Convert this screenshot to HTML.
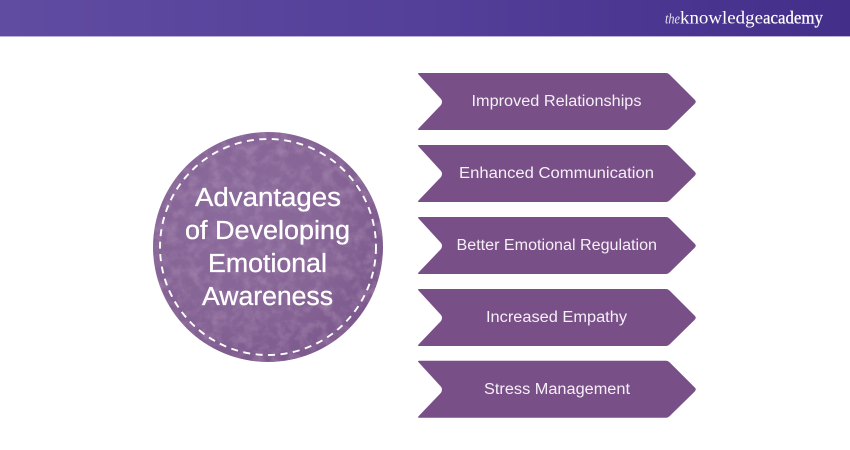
<!DOCTYPE html>
<html><head><meta charset="utf-8"><style>
html,body{margin:0;padding:0;background:#fff;width:850px;height:450px;overflow:hidden}
svg{display:block}
.l{font-family:"Liberation Sans",sans-serif;font-size:15.5px;fill:#f5eff7}
.c{font-family:"Liberation Sans",sans-serif;font-size:25.5px;fill:#fff;stroke:#fff;stroke-width:.3px}
.g{font-family:"Liberation Serif",serif;fill:#fff}
</style></head><body>
<svg width="850" height="450" viewBox="0 0 850 450" xmlns="http://www.w3.org/2000/svg">
<defs>
<linearGradient id="h" x1="0" x2="1" y1="0" y2="0"><stop offset="0" stop-color="#604ca1"/><stop offset=".5" stop-color="#543f99"/><stop offset="1" stop-color="#432f8a"/></linearGradient>
<filter id="t" x="0" y="0" width="100%" height="100%"><feTurbulence type="fractalNoise" baseFrequency=".09" numOctaves="4" seed="7"/><feColorMatrix values="0 0 0 0 .42  0 0 0 0 .27  0 0 0 0 .46  1.2 0 0 0 -.5"/></filter>
<radialGradient id="s" gradientUnits="userSpaceOnUse" cx="240" cy="215" r="165"><stop offset="0" stop-color="#8b6b9c"/><stop offset=".6" stop-color="#866596"/><stop offset="1" stop-color="#7b578b"/></radialGradient>
<clipPath id="cc"><circle cx="268" cy="247" r="115"/></clipPath>
<path id="a" d="M419 0H666Q668 0 670 2L694.500 26.500Q697 28.500 694.500 31L670 55Q668 57 666 57H419Q417 57 419 55L441 32Q443 28.500 441 26L419 2Q417 0 419 0Z" fill="#794f87"/>
</defs>
<rect width="850" height="36" fill="url(#h)"/>
<rect y="36" width="850" height="1" fill="#b9b0d6"/>
<text class="g" x="665" y="23.500" font-size="15" font-style="italic" textLength="15" lengthAdjust="spacingAndGlyphs" opacity=".85">the</text>
<text class="g" x="680" y="23.500" font-size="18" textLength="83" lengthAdjust="spacingAndGlyphs">knowledge</text>
<text class="g" x="763" y="23.500" font-size="18" stroke="#fff" stroke-width=".25" textLength="60" lengthAdjust="spacingAndGlyphs">academy</text>

<circle cx="268" cy="247" r="115" fill="url(#s)"/>
<g clip-path="url(#cc)"><rect x="150" y="130" width="236" height="236" filter="url(#t)"/></g>
<circle cx="268" cy="247" r="108" fill="none" stroke="#fff" stroke-width="1.900" stroke-dasharray="7 5.500"/>
<text class="c" x="195" y="206" textLength="146" lengthAdjust="spacingAndGlyphs">Advantages</text>
<text class="c" x="185" y="239" textLength="165" lengthAdjust="spacingAndGlyphs">of Developing</text>
<text class="c" x="208" y="272" textLength="119" lengthAdjust="spacingAndGlyphs">Emotional</text>
<text class="c" x="202" y="305" textLength="131" lengthAdjust="spacingAndGlyphs">Awareness</text>

<use href="#a" y="73"/><use href="#a" y="145"/><use href="#a" y="217"/><use href="#a" y="289"/><use href="#a" y="360.700"/>
<text class="l" x="471.500" y="106" textLength="170" lengthAdjust="spacingAndGlyphs">Improved Relationships</text>
<text class="l" x="459" y="178" textLength="195" lengthAdjust="spacingAndGlyphs">Enhanced Communication</text>
<text class="l" x="456.500" y="250" textLength="200.500" lengthAdjust="spacingAndGlyphs">Better Emotional Regulation</text>
<text class="l" x="486" y="322" textLength="141" lengthAdjust="spacingAndGlyphs">Increased Empathy</text>
<text class="l" x="484" y="394" textLength="146" lengthAdjust="spacingAndGlyphs">Stress Management</text>
</svg>
</body></html>
